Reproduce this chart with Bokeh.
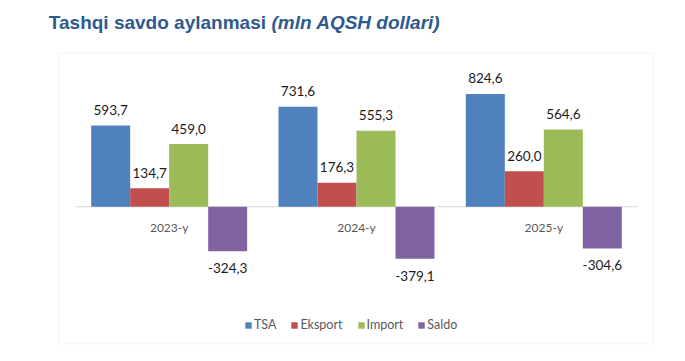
from bokeh.plotting import figure
from bokeh.models import Range1d, Label, BoxAnnotation, ColumnDataSource
from bokeh.core.properties import value
from bokeh.embed import file_html
from bokeh.resources import INLINE

# ---- data ----
years = ["2023-y", "2024-y", "2025-y"]
series_names = ["TSA", "Eksport", "Import", "Saldo"]
tsa = [593.7, 731.6, 824.6]
eksport = [134.7, 176.3, 260.0]
import_ = [459.0, 555.3, 564.6]
saldo = [-324.3, -379.1, -304.6]
colors = ["#4F81BD", "#C0504D", "#9BBB59", "#8064A2"]
title_main = "Tashqi savdo aylanmasi "
title_unit = "(mln AQSH dollari)"

series_values = [tsa, eksport, import_, saldo]

# ---- layout constants (pixels) ----
W, H = 680, 356
cat_px = 187.33
axis_left_px = 75.0
zero_px = 206.3
px_per_unit = 0.1368
bar_w = 39.0 / cat_px

x_start = -axis_left_px / cat_px
x_end = 3 + (W - axis_left_px - 3 * cat_px) / cat_px
y_end = zero_px / px_per_unit
y_start = -(H - zero_px) / px_per_unit

p = figure(width=W, height=H, x_range=Range1d(x_start, x_end),
           y_range=Range1d(y_start, y_end),
           x_axis_location=None, y_axis_location=None,
           toolbar_location=None, output_backend="svg", min_border=0,
           outline_line_color=None, background_fill_color="white",
           border_fill_color="white")
p.grid.visible = False

# chart border
p.add_layout(BoxAnnotation(left=58.5, right=652.5, bottom=H - 343.3, top=H - 52.7,
                           left_units="screen", right_units="screen",
                           top_units="screen", bottom_units="screen",
                           fill_alpha=0, line_color="#D9D9D9", line_width=1))

# zero / category axis line
p.segment(x0=[0], y0=[0], x1=[len(years)], y1=[0], line_color="#D9D9D9", line_width=1)

centers = [i + 0.5 for i in range(len(years))]
offsets = [-1.5, -0.5, 0.5, 1.5]

for name, vals, col, off in zip(series_names, series_values, colors, offsets):
    xs = [c + off * bar_w for c in centers]
    src = ColumnDataSource(dict(x=xs, top=vals,
                                lbl=[f"{v:.1f}".replace(".", ",") for v in vals],
                                yoff=[-15.5 if v >= 0 else 17 for v in vals]))
    p.vbar(x="x", top="top", bottom=0, width=bar_w, color=col, line_color=None,
           source=src, legend_label=name)
    p.text(x="x", y="top", text="lbl", y_offset="yoff", source=src,
           text_align="center", text_baseline="middle",
           text_font=value("Lato"), text_font_size="13.5px", text_color="#1A1A1A")

# category labels
p.text(x=centers, y=[0] * len(years), text=years, y_offset=21,
       text_align="center", text_baseline="middle",
       text_font=value("Lato"), text_font_size="12px", text_color="#595959")

# title
p.add_layout(Label(x=48.3, y=H - 21.7, x_units="screen", y_units="screen",
                   text=title_main, text_font="Liberation Sans", text_font_style="bold",
                   text_font_size="19px", text_color="#2E5A8E", text_baseline="middle"))
p.add_layout(Label(x=271, y=H - 21.7, x_units="screen", y_units="screen",
                   text=title_unit, text_font="Liberation Sans", text_font_style="bold italic",
                   text_font_size="19px", text_color="#2E5A8E", text_baseline="middle"))

lg = p.legend[0]
lg.location = (244, int(H - 331.7))
lg.orientation = "horizontal"
lg.glyph_width = 8
lg.glyph_height = 8
lg.label_standoff = 2
lg.spacing = 14
lg.padding = 4
lg.margin = 0
lg.label_height = 14
lg.border_line_color = None
lg.background_fill_alpha = 0
lg.label_text_font = "Lato"
lg.label_text_font_size = "12.5px"
lg.label_text_color = "#595959"

open("out.html", "w").write(file_html(p, INLINE))
